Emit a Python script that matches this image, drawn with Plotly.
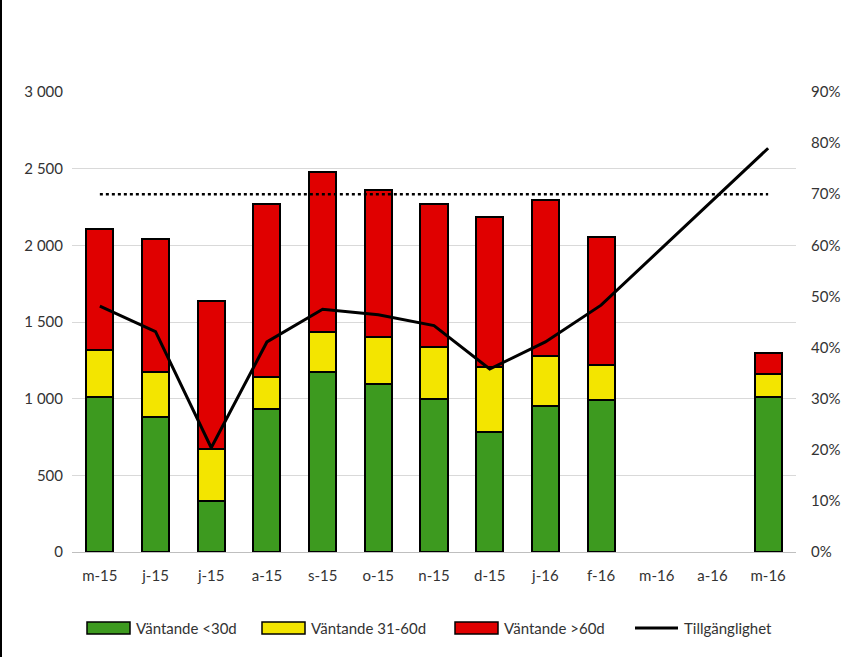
import plotly.graph_objects as go

months = ["m-15", "j-15", "j-15 ", "a-15", "s-15", "o-15", "n-15", "d-15", "j-16", "f-16", "m-16", "a-16", "m-16 "]
tick_text = ["m-15", "j-15", "j-15", "a-15", "s-15", "o-15", "n-15", "d-15", "j-16", "f-16", "m-16", "a-16", "m-16"]

wait_lt30 = [1010, 882, 335, 932, 1176, 1096, 998, 785, 952, 990, None, None, 1010]
wait_31_60 = [307, 293, 337, 210, 258, 307, 340, 423, 326, 230, None, None, 150]
wait_gt60 = [790, 866, 968, 1126, 1047, 958, 930, 980, 1018, 836, None, None, 137]
availability = [0.481, 0.431, 0.204, 0.411, 0.475, 0.464, 0.443, 0.358, 0.411, 0.483, None, None, 0.790]
target = [0.70] * 13

series_names = ["Väntande <30d", "Väntande 31-60d", "Väntande >60d"]
series_colors = ["#3d9a1f", "#f3e500", "#e00000"]
line_name = "Tillgänglighet"

FONT = "Lato, Open Sans, Liberation Sans, sans-serif"
TXT = "#333333"

fig = go.Figure()
for name, vals, col in zip(series_names, [wait_lt30, wait_31_60, wait_gt60], series_colors):
    fig.add_trace(go.Bar(x=months, y=vals, name=name, showlegend=False,
                         marker=dict(color=col, line=dict(color="black", width=2))))

fig.add_trace(go.Scatter(x=months, y=availability, name=line_name, yaxis="y2",
                         mode="lines", connectgaps=True, showlegend=False,
                         line=dict(color="black", width=3)))
fig.add_trace(go.Scatter(x=months, y=target, name="Mål", yaxis="y2", mode="lines",
                         showlegend=False, line=dict(color="black", width=2.5, dash="dot")))

W, H = 843, 657
L, R, T, B = 72, 47, 92, 105
pw, ph = W - L - R, H - T - B

def px(x):
    return (x - L) / pw

def py(y):
    return (H - B - y) / ph

shapes = [dict(type="line", xref="paper", yref="paper",
               x0=px(1), x1=px(1), y0=py(H), y1=py(0),
               line=dict(color="black", width=2))]
annotations = []
legend_y = 628
swatch_x = [87, 262, 455]
for sx, col, name in zip(swatch_x, series_colors, series_names):
    shapes.append(dict(type="rect", xref="paper", yref="paper",
                       x0=px(sx), x1=px(sx + 43), y0=py(legend_y + 6), y1=py(legend_y - 6),
                       fillcolor=col, line=dict(color="black", width=1.5)))
    annotations.append(dict(xref="paper", yref="paper", x=px(sx + 47), y=py(legend_y),
                            xanchor="left", yanchor="middle", text=name, showarrow=False,
                            font=dict(size=15, color=TXT, family=FONT)))
shapes.append(dict(type="line", xref="paper", yref="paper",
                   x0=px(635), x1=px(678), y0=py(legend_y), y1=py(legend_y),
                   line=dict(color="black", width=3)))
annotations.append(dict(xref="paper", yref="paper", x=px(682), y=py(legend_y),
                        xanchor="left", yanchor="middle", text=line_name, showarrow=False,
                        font=dict(size=15, color=TXT, family=FONT)))

fig.update_layout(
    width=W, height=H,
    margin=dict(l=L, r=R, t=T, b=B, autoexpand=False),
    paper_bgcolor="white", plot_bgcolor="white",
    barmode="stack", bargap=0.515,
    separators=", ",
    showlegend=False,
    font=dict(family=FONT, size=15, color=TXT),
    xaxis=dict(tickvals=months, ticktext=tick_text, showgrid=False,
               showline=True, linecolor="#bfbfbf", linewidth=1, ticks="",
               ticklabelstandoff=10, tickfont=dict(size=15, color=TXT)),
    yaxis=dict(range=[0, 3000], dtick=500, tickformat=",d", showgrid=True,
               gridcolor="#d9d9d9", gridwidth=1, zeroline=False, showline=False,
               ticks="", ticklabelstandoff=8, tickfont=dict(size=15, color=TXT)),
    yaxis2=dict(range=[0, 0.9], dtick=0.1, tickformat=".0%", overlaying="y",
                side="right", showgrid=False, zeroline=False, showline=False,
                ticks="", ticklabelstandoff=14, tickfont=dict(size=15, color=TXT)),
    shapes=shapes,
    annotations=annotations,
)

fig.write_html("out.html", config={"displayModeBar": False},
               post_script="document.body.style.margin='0px';")
